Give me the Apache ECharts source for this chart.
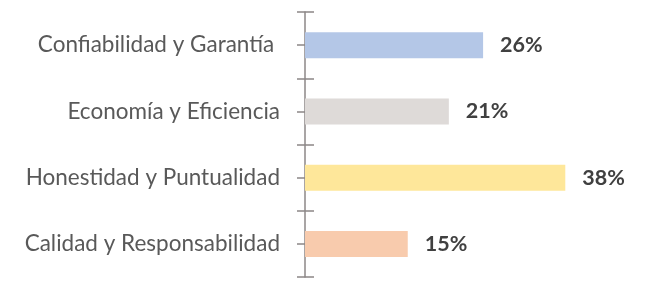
<!DOCTYPE html>
<html><head><meta charset="utf-8">
<script src="https://cdn.jsdelivr.net/npm/echarts@6/dist/echarts.min.js"></script>
<style>html,body{margin:0;padding:0;background:#fff}#c{width:650px;height:296px}</style>
</head><body><div id="c"></div>
<script>
var categories = ['Confiabilidad y Garantía ', 'Economía y Eficiencia', 'Honestidad y Puntualidad', 'Calidad y Responsabilidad'];
var values = [26, 21, 38, 15];
var barColors = ['#b4c7e7', '#dedad8', '#fee79a', '#f8cbad'];

var chart = echarts.init(document.getElementById('c'), null, {renderer: 'canvas'});
var axisColor = '#8c8787';
function tickAxis(align, inside, len) {
  return {
    type: 'category', data: categories, inverse: true, position: 'left', offset: 0,
    axisLine: {show: false},
    axisTick: {show: true, alignWithLabel: align, inside: inside, length: len, interval: 0,
      lineStyle: {color: axisColor, width: 1.5}},
    axisLabel: {show: false}, splitLine: {show: false}
  };
}
chart.setOption({
  animation: false,
  grid: {left: 305, right: 2.5, top: 12, bottom: 19},
  xAxis: {type: 'value', min: 0, max: 50, show: false},
  yAxis: [
    {
      type: 'category', data: categories, inverse: true, position: 'left', offset: 0,
      axisLine: {show: true, lineStyle: {color: axisColor, width: 1.5}},
      axisTick: {show: true, inside: false, length: 8, interval: 0, lineStyle: {color: axisColor, width: 1.5}},
      axisLabel: {margin: 25, color: '#595959', fontSize: 22.5, fontFamily: 'Lato'}
    },
    tickAxis(false, true, 9),
    tickAxis(true, false, 8),
    tickAxis(true, true, 7)
  ],
  series: [{
    type: 'bar', yAxisIndex: 0, barWidth: 26,
    data: values.map(function (v, i) { return {value: v, itemStyle: {color: barColors[i]}}; }),
    label: {show: true, position: 'right', distance: 17, formatter: '{c}%',
      color: '#404040', fontSize: 21.5, fontWeight: 'bold', fontFamily: 'Lato'}
  }]
});
</script></body></html>
